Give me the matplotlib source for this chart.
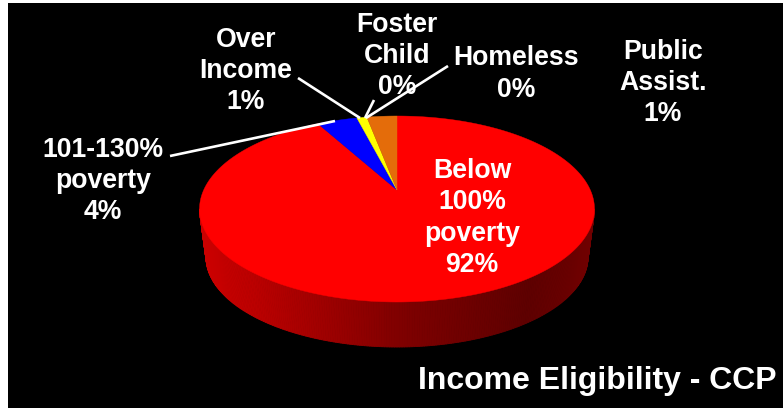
import numpy as np
import matplotlib
matplotlib.use("Agg")
import matplotlib.pyplot as plt
from matplotlib.collections import PolyCollection

# Wedges clockwise from 12 o'clock. Shares are what the slices measure,
# the printed labels are kept separately because they differ (Public Assist.)
categories = ["Below 100% poverty", "101-130% poverty", "Over Income",
              "Foster Child", "Homeless", "Public Assist."]
shares = [92, 4, 1, 0, 0, 3]
colors = ["#ff0000", "#0000ff", "#ffff00", "#00a0a0", "#a000a0", "#e46c0a"]
labels = ["Below\n100%\npoverty\n92%", "101-130%\npoverty\n4%", "Over\nIncome\n1%",
          "Foster\nChild\n0%", "Homeless\n0%", "Public\nAssist.\n1%"]
label_pos = [(472, 218), (103, 181), (246, 71), (397, 56), (516, 74), (663, 83)]
leaders = [None, [(170, 156), (335, 121)], [(298, 78), (360, 118)],
           [(374, 100), (365, 118)], [(448, 66), (366, 118)], None]
title = "Income Eligibility - CCP"

W, H = 783, 412
CX = 397


def project(u, v):
    # unit disc -> picture, the tilt pushes the pie centre up to y=190
    d = 0.2043 * v + 1
    return CX + 193.3 * u / d, (190 - 50.3 * v) / d


fig = plt.figure(figsize=(W / 100, H / 100), dpi=100, facecolor="white")
ax = fig.add_axes([0, 0, 1, 1])
ax.set_xlim(0, W)
ax.set_ylim(H, 0)
ax.axis("off")
ax.fill([8, W, W, 8], [3, 3, 408, 408], color="black", lw=0)

# rim, shaded from left to right
t = np.radians(np.linspace(180, 0, 241))
top_x = CX + 197.5 * np.cos(t)
top_y = 209 + 93 * np.sin(t)
low_x = CX + 191 * np.cos(t)
low_y = 257 + 90 * np.sin(t)
quads = []
shade = []
for i in range(len(t) - 1):
    quads.append([(top_x[i], top_y[i]), (top_x[i + 1], top_y[i + 1]),
                  (low_x[i + 1], low_y[i + 1]), (low_x[i], low_y[i])])
    xm = (top_x[i] + top_x[i + 1]) / 2
    shade.append((np.interp(xm, [199, 250, 400, 530, 594], [0.80, 0.74, 0.50, 0.37, 0.44]), 0, 0))
ax.add_collection(PolyCollection(quads, facecolors=shade, edgecolors=shade, linewidths=0.6))

# top face
start = 0.0
total = sum(shares)
for share, col in zip(shares, colors):
    if share == 0:
        continue
    ang = np.radians(np.linspace(start, start + share, max(int(share * 8), 6)) * 360 / total)
    px, py = project(np.sin(ang), np.cos(ang))
    ax.fill(np.r_[CX, px], np.r_[190, py], color=col, lw=0.3, zorder=3)
    start += share

for seg in leaders:
    if seg is not None:
        ax.plot(*zip(*seg), color="white", lw=1.9, solid_capstyle="butt", zorder=4)

for txt, (x, y) in zip(labels, label_pos):
    ax.text(x, y, txt, color="white", fontsize=19.2, fontweight="bold",
            family="Liberation Sans", ha="center", va="center", linespacing=1.26, zorder=5)
ax.text(777, 381, title, color="white", fontsize=23, fontweight="bold",
        family="Liberation Sans", ha="right", va="center", zorder=5)

fig.savefig("out.png", dpi=100, facecolor="white")
